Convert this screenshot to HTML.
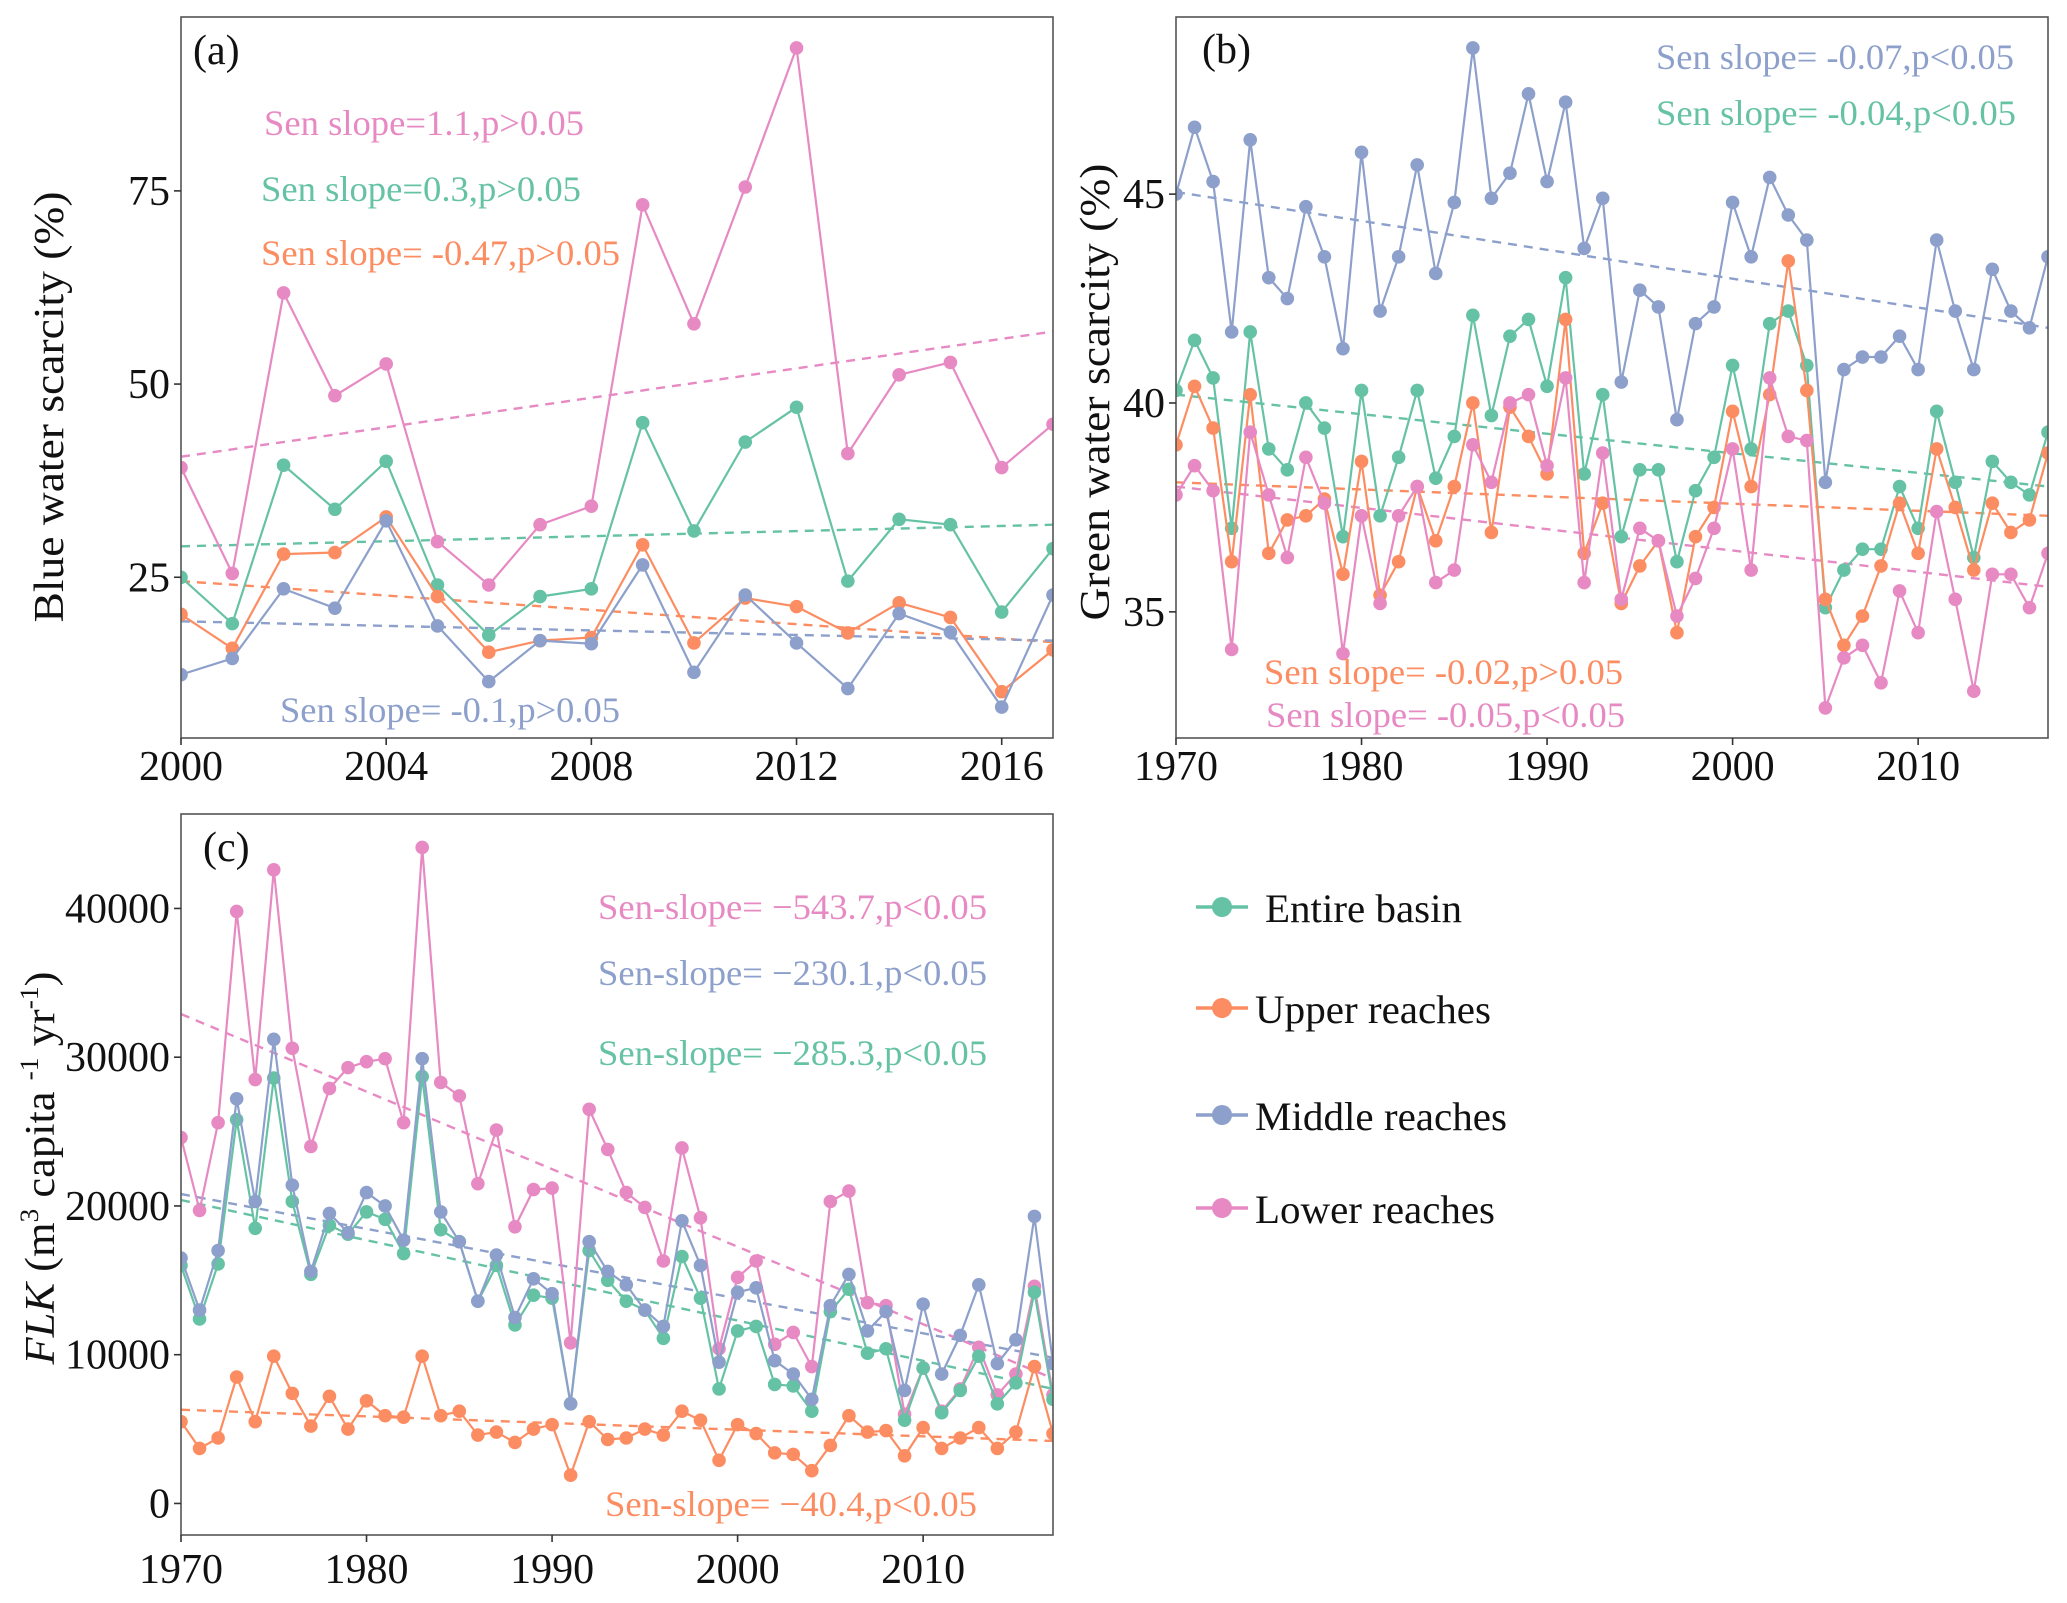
<!DOCTYPE html>
<html><head><meta charset="utf-8"><style>
html,body{margin:0;padding:0;background:#fff;}
svg{display:block;}
svg text{font-family:"Liberation Serif","Times New Roman","DejaVu Serif",serif;}
</style></head><body>
<svg id="fig" width="2067" height="1603" viewBox="0 0 2067 1603" xmlns="http://www.w3.org/2000/svg" font-family="'Liberation Serif', 'DejaVu Serif', serif"></svg>
<script>
// ---------- DATA ----------
const yearsA = [2000,2001,2002,2003,2004,2005,2006,2007,2008,2009,2010,2011,2012,2013,2014,2015,2016,2017];
const blueEntire = [25,19,39.5,33.8,40,24,17.5,22.5,23.5,45,31,42.5,47,24.5,32.5,31.8,20.5,28.7];
const blueUpper  = [20.2,15.8,28,28.2,32.8,22.5,15.3,16.8,17.2,29.2,16.5,22.3,21.2,17.8,21.7,19.8,10.2,15.6];
const blueMiddle = [12.4,14.5,23.5,21,32.3,18.7,11.5,16.8,16.4,26.6,12.7,22.7,16.5,10.6,20.3,17.9,8.2,22.7];
const blueLower  = [39.2,25.5,61.8,48.5,52.6,29.6,24,31.8,34.2,73.2,57.8,75.5,93.5,41,51.2,52.8,39.2,44.8];
const blueTrendStart = [29,24.5,19.3,40.6];
const blueTrendEnd   = [31.8,16.6,16.8,56.8];
const blueTicks = [25,50,75];
const yearTicksA = [2000,2004,2008,2012,2016];

const yearsB = [];
for (let y = 1970; y <= 2017; y++) yearsB.push(y);
const greenEntire = [40.3,41.5,40.6,37.0,41.7,38.9,38.4,40.0,39.4,36.8,40.3,37.3,38.7,40.3,38.2,39.2,42.1,39.7,41.6,42.0,40.4,43.0,38.3,40.2,36.8,38.4,38.4,36.2,37.9,38.7,40.9,38.9,41.9,42.2,40.9,35.1,36.0,36.5,36.5,38.0,37.0,39.8,38.1,36.3,38.6,38.1,37.8,39.3];
const greenUpper  = [39.0,40.4,39.4,36.2,40.2,36.4,37.2,37.3,37.7,35.9,38.6,35.4,36.2,38.0,36.7,38.0,40.0,36.9,39.9,39.2,38.3,42.0,36.4,37.6,35.2,36.1,36.7,34.5,36.8,37.5,39.8,38.0,40.2,43.4,40.3,35.3,34.2,34.9,36.1,37.6,36.4,38.9,37.5,36.0,37.6,36.9,37.2,38.8];
const greenMiddle = [45.0,46.6,45.3,41.7,46.3,43.0,42.5,44.7,43.5,41.3,46.0,42.2,43.5,45.7,43.1,44.8,48.5,44.9,45.5,47.4,45.3,47.2,43.7,44.9,40.5,42.7,42.3,39.6,41.9,42.3,44.8,43.5,45.4,44.5,43.9,38.1,40.8,41.1,41.1,41.6,40.8,43.9,42.2,40.8,43.2,42.2,41.8,43.5];
const greenLower  = [37.8,38.5,37.9,34.1,39.3,37.8,36.3,38.7,37.6,34.0,37.3,35.2,37.3,38.0,35.7,36.0,39.0,38.1,40.0,40.2,38.5,40.6,35.7,38.8,35.3,37.0,36.7,34.9,35.8,37.0,38.9,36.0,40.6,39.2,39.1,32.7,33.9,34.2,33.3,35.5,34.5,37.4,35.3,33.1,35.9,35.9,35.1,36.4];
const greenTrendStart = [40.2,38.1,45.05,38.0];
const greenTrendEnd   = [38.0,37.3,41.8,35.6];
const greenTicks = [35,40,45];
const yearTicksB = [1970,1980,1990,2000,2010];

const flkEntire = [16000,12400,16100,25800,18500,28600,20300,15400,18700,18100,19600,19100,16800,28700,18400,17600,13600,16000,12000,14000,13800,6700,17000,15000,13600,13000,11100,16600,13800,7700,11600,11900,8000,7900,6200,12900,14400,10100,10400,5600,9100,6100,7600,9900,6700,8100,14200,7000];
const flkUpper  = [5500,3700,4400,8500,5500,9900,7400,5200,7200,5000,6900,5900,5800,9900,5900,6200,4600,4800,4100,5000,5300,1900,5500,4300,4400,5000,4600,6200,5600,2900,5300,4700,3400,3300,2200,3900,5900,4800,4900,3200,5100,3700,4400,5100,3700,4800,9200,4700];
const flkMiddle = [16500,13000,17000,27200,20300,31200,21400,15600,19500,18200,20900,20000,17700,29900,19600,17600,13600,16700,12500,15100,14100,6700,17600,15600,14700,13000,11900,19000,16000,9500,14200,14500,9600,8700,7000,13300,15400,11600,12900,7600,13400,8700,11300,14700,9400,11000,19300,9400];
const flkLower  = [24600,19700,25600,39800,28500,42600,30600,24000,27900,29300,29700,29900,25600,44100,28300,27400,21500,25100,18600,21100,21200,10800,26500,23800,20900,19900,16300,23900,19200,10400,15200,16300,10700,11500,9200,20300,21000,13500,13300,6000,9100,6200,7700,10500,7300,8700,14600,7300];
const flkTrendStart = [20400,6300,20800,32900];
const flkTrendEnd   = [7700,4200,9800,8400];
const flkTicks = [0,10000,20000,30000,40000];

const seriesNames = ["entire-basin","upper-reaches","middle-reaches","lower-reaches"];
const seriesLabels = ["Entire basin","Upper reaches","Middle reaches","Lower reaches"];
const colors = ["#66c2a5","#fc8d62","#8da0cb","#e78ac3"];

// ---------- DRAW ----------
const NS = "http://www.w3.org/2000/svg";
const svg = document.getElementById("fig");
const FONT = "'Liberation Serif', 'DejaVu Serif', serif";
function mk(tag, attrs, parent) {
  const e = document.createElementNS(NS, tag);
  for (const k in attrs) e.setAttribute(k, attrs[k]);
  if (tag === "text") e.setAttribute("font-family", FONT);
  (parent || svg).appendChild(e);
  return e;
}
function linear(d0, d1, r0, r1) { return v => r0 + (v - d0) * (r1 - r0) / (d1 - d0); }

function panel(cfg) {
  const g = mk("g", {});
  
  
  const x = linear(cfg.xd[0], cfg.xd[1], cfg.L, cfg.R);
  const y = linear(cfg.yd[0], cfg.yd[1], cfg.B, cfg.T);
  const clipId = cfg.name + "-clip";
  const cp = mk("clipPath", {id: clipId}, g);
  mk("rect", {x: cfg.L, y: cfg.T, width: cfg.R - cfg.L, height: cfg.B - cfg.T}, cp);
  for (let s = 0; s < 4; s++) {
    const t = mk("line", {x1: x(cfg.xd[0]), y1: y(cfg.trendStart[s]), x2: x(cfg.xd[1]), y2: y(cfg.trendEnd[s]),
      stroke: colors[s], "stroke-width": 2.4, "stroke-dasharray": "9,7", "clip-path": "url(#" + clipId + ")"}, g);
    
    
  }
  for (const s of cfg.order) {
    const vals = cfg.series[s];
    const pts = vals.map((v, i) => x(cfg.years[i]).toFixed(1) + "," + y(v).toFixed(1)).join(" ");
    const sg = mk("g", {"clip-path": "url(#" + clipId + ")"}, g);
    
    
    const pl = mk("polyline", {points: pts, fill: "none", stroke: colors[s], "stroke-width": 2.2}, sg);
    
    
    vals.forEach((v, i) => {
      const c = mk("circle", {cx: x(cfg.years[i]), cy: y(v), r: 6.8, fill: colors[s]}, sg);
      
      
    });
  }
  const fr = mk("rect", {x: cfg.L, y: cfg.T, width: cfg.R - cfg.L, height: cfg.B - cfg.T, fill: "none", stroke: "#555", "stroke-width": 1.6}, g);
  
  
  cfg.yTicks.forEach(v => {
    mk("line", {x1: cfg.L - 7, x2: cfg.L, y1: y(v), y2: y(v), stroke: "#333", "stroke-width": 1.6}, g);
    const t = mk("text", {x: cfg.L - 11, y: y(v) + 14, "text-anchor": "end", "font-size": 42, fill: "#111"}, g);
    t.textContent = v;
    
    
  });
  cfg.xTicks.forEach(v => {
    mk("line", {x1: x(v), x2: x(v), y1: cfg.B, y2: cfg.B + 7, stroke: "#333", "stroke-width": 1.6}, g);
    const t = mk("text", {x: x(v), y: cfg.xLabY, "text-anchor": "middle", "font-size": 42, fill: "#111"}, g);
    t.textContent = v;
    
    
  });
  const pl = mk("text", {x: cfg.tag[1], y: cfg.tag[2], "font-size": 42, fill: "#111"}, g);
  pl.textContent = cfg.tag[0];
  
  
  cfg.notes.forEach(n => {
    const t = mk("text", {x: n[2], y: n[4], "font-size": 36, fill: colors[n[1]], textLength: n[3] - n[2], lengthAdjust: "spacingAndGlyphs"}, g);
    t.textContent = n[0];
    
    
  });
  return g;
}

panel({name: "panel-a-blue-water", L: 181, R: 1053, T: 17, B: 738, xd: [2000, 2017], yd: [4.2, 97.5],
  years: yearsA, series: [blueEntire, blueUpper, blueMiddle, blueLower], order: [3,0,1,2],
  trendStart: blueTrendStart, trendEnd: blueTrendEnd, yTicks: blueTicks, xTicks: yearTicksA, xLabY: 780,
  tag: ["(a)", 193, 64],
  notes: [["Sen slope=1.1,p>0.05", 3, 264, 584, 135], ["Sen slope=0.3,p>0.05", 0, 261, 581, 201],
          ["Sen slope= -0.47,p>0.05", 1, 261, 620, 265], ["Sen slope= -0.1,p>0.05", 2, 280, 620, 722]]});

panel({name: "panel-b-green-water", L: 1176, R: 2048, T: 17, B: 738, xd: [1970, 2017], yd: [31.98, 49.24],
  years: yearsB, series: [greenEntire, greenUpper, greenMiddle, greenLower], order: [2,0,1,3],
  trendStart: greenTrendStart, trendEnd: greenTrendEnd, yTicks: greenTicks, xTicks: yearTicksB, xLabY: 780,
  tag: ["(b)", 1202, 63],
  notes: [["Sen slope= -0.07,p<0.05", 2, 1656, 2014, 69], ["Sen slope= -0.04,p<0.05", 0, 1656, 2016, 125],
          ["Sen slope= -0.02,p>0.05", 1, 1264, 1623, 684], ["Sen slope= -0.05,p<0.05", 3, 1266, 1625, 727]]});

panel({name: "panel-c-flk", L: 181, R: 1053, T: 814, B: 1535, xd: [1970, 2017], yd: [-2121, 46350],
  years: yearsB, series: [flkEntire, flkUpper, flkMiddle, flkLower], order: [3,1,0,2],
  trendStart: flkTrendStart, trendEnd: flkTrendEnd, yTicks: flkTicks, xTicks: yearTicksB, xLabY: 1583,
  tag: ["(c)", 203, 861],
  notes: [["Sen-slope= \u2212543.7,p<0.05", 3, 598, 987, 919], ["Sen-slope= \u2212230.1,p<0.05", 2, 598, 987, 985],
          ["Sen-slope= \u2212285.3,p<0.05", 0, 598, 987, 1065], ["Sen-slope= \u221240.4,p<0.05", 1, 605, 977, 1516]]});

function ytitle(txt, cx, cy, name, len) {
  const t = mk("text", {x: 0, y: 0, transform: "translate(" + cx + "," + cy + ") rotate(-90)", "text-anchor": "middle", "font-size": 42, fill: "#111"});
  t.innerHTML = txt;
  if (len) { t.setAttribute("textLength", len); t.setAttribute("lengthAdjust", "spacingAndGlyphs"); }
  
  
}
ytitle("Blue water scarcity (%)", 63, 407, "y-axis-title-a", 431);
ytitle("Green water scarcity (%)", 1109, 392, "y-axis-title-b", 457);
ytitle('<tspan font-style="italic">FLK</tspan> (m<tspan font-size="26" dy="-16">3</tspan><tspan dy="16"> capita </tspan><tspan font-size="26" dy="-16">-1</tspan><tspan dy="16"> yr</tspan><tspan font-size="26" dy="-16">-1</tspan><tspan dy="16">)</tspan>', 54, 1168, "y-axis-title-c", 393);

const legY = [907, 1008, 1115, 1208];
const legTextX = [1265, 1255, 1255, 1255];
const legTextEnd = [1462, 1491, 1507, 1495];
const lg = mk("g", {});


for (let s = 0; s < 4; s++) {
  const e = mk("g", {}, lg);
  
  
  mk("line", {x1: 1196, x2: 1248, y1: legY[s], y2: legY[s], stroke: colors[s], "stroke-width": 3.5}, e);
  mk("circle", {cx: 1222, cy: legY[s], r: 10, fill: colors[s]}, e);
  const t = mk("text", {x: legTextX[s], y: legY[s] + 15, "font-size": 40, fill: "#111", textLength: legTextEnd[s] - legTextX[s], lengthAdjust: "spacingAndGlyphs"}, e);
  t.textContent = seriesLabels[s];
}
</script>
</body></html>
